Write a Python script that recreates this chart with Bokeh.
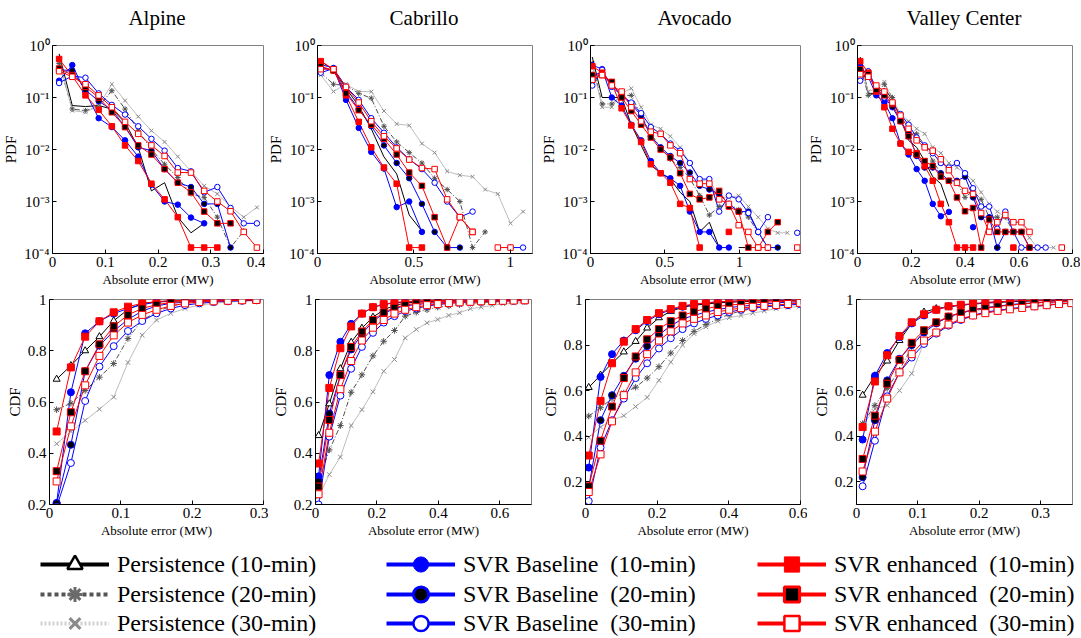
import numpy as np
from bokeh.plotting import figure
from bokeh.layouts import column, row
from bokeh.models import Range1d, FixedTicker, Legend, LegendItem, Label
from bokeh.embed import file_html
from bokeh.resources import INLINE

nan = np.nan

SITES = ["Alpine", "Cabrillo", "Avocado", "Valley Center"]
SERIES = ["Persistence (10-min)", "Persistence (20-min)", "Persistence (30-min)",
          "SVR Baseline  (10-min)", "SVR Baseline  (20-min)", "SVR Baseline  (30-min)",
          "SVR enhanced  (10-min)", "SVR enhanced  (20-min)", "SVR enhanced  (30-min)"]

# ---------------- PDF data ----------------
alp_pdf_x = [0.0125, 0.0375, 0.0625, 0.0875, 0.1125, 0.1375, 0.1625, 0.1875, 0.2125, 0.2375, 0.2625, 0.2875, 0.3125, 0.3375, 0.3625, 0.3875]
alp_pdf_p10 = [0.69, 0.07, 0.067, 0.07, 0.06, 0.033, 0.011, 0.0016, 0.0023, 0.0005, 0.00025, 0.00038, nan, nan, nan, nan]
alp_pdf_p20 = [0.45, 0.06, 0.056, 0.067, 0.135, 0.06, 0.023, 0.010, 0.0052, 0.0029, 0.0014, 0.0012, 0.0005, 0.00013, 0.00027, nan]
alp_pdf_p30 = [0.5, 0.056, 0.052, 0.07, 0.18, 0.087, 0.043, 0.023, 0.014, 0.0073, 0.0038, 0.002, 0.0014, 0.0008, 0.0005, 0.00077]
alp_pdf_b10 = [0.21, 0.42, 0.126, 0.04, 0.027, 0.015, 0.0073, 0.0021, 0.001, 0.00087, 0.00049, 0.00038, nan, nan, nan, nan]
alp_pdf_b20 = [0.34, 0.33, 0.14, 0.085, 0.058, 0.027, 0.011, 0.0095, 0.0042, 0.0023, 0.0019, 0.0009, 0.0009, 0.00013, nan, nan]
alp_pdf_b30 = [0.19, 0.26, 0.24, 0.12, 0.072, 0.047, 0.028, 0.016, 0.0095, 0.0044, 0.0038, 0.0015, 0.0019, 0.00075, 0.00038, 0.00038]
alp_pdf_e10 = [0.55, 0.26, 0.11, 0.058, 0.028, 0.012, 0.006, 0.0022, 0.0011, 0.0005, 0.00013, 0.00013, 0.00013, nan, nan, nan]
alp_pdf_e20 = [0.36, 0.27, 0.16, 0.10, 0.052, 0.027, 0.012, 0.008, 0.0042, 0.0023, 0.0015, 0.00064, 0.00038, 0.00038, nan, nan]
alp_pdf_e30 = [0.32, 0.25, 0.18, 0.11, 0.065, 0.034, 0.02, 0.012, 0.0075, 0.0036, 0.0036, 0.0016, 0.001, 0.00065, 0.00026, 0.00013]

cab_pdf_x = [0.017, 0.083, 0.148, 0.214, 0.279, 0.345, 0.411, 0.476, 0.542, 0.608, 0.673, 0.739, 0.805, 0.870, 0.936, 1.002, 1.067]
cab_pdf_p10 = [0.5, 0.34, 0.15, 0.069, 0.025, 0.0072, 0.0034, 0.00055, 0.00027, nan, nan, nan, nan, nan, nan, nan, nan]
cab_pdf_p20 = [0.3, 0.18, 0.17, 0.12, 0.097, 0.028, 0.014, 0.0087, 0.0055, 0.0028, 0.0017, 0.001, 0.00013, 0.00026, nan, nan, nan]
cab_pdf_p30 = [0.27, 0.13, 0.18, 0.13, 0.13, 0.055, 0.031, 0.029, 0.013, 0.0087, 0.0038, 0.0032, 0.003, 0.0017, 0.0014, 0.00038, 0.00064]
cab_pdf_b10 = [0.43, 0.37, 0.09, 0.026, 0.009, 0.0043, 0.00078, 0.001, 0.00026, nan, nan, nan, nan, nan, nan, nan, nan]
cab_pdf_b20 = [0.38, 0.33, 0.13, 0.06, 0.028, 0.012, 0.0055, 0.0028, 0.0009, 0.00026, 0.00013, 0.00013, nan, nan, nan, nan, nan]
cab_pdf_b30 = [0.3, 0.36, 0.16, 0.09, 0.04, 0.021, 0.011, 0.0065, 0.0042, 0.0023, 0.001, 0.0005, 0.00064, nan, nan, 0.00013, 0.00013]
cab_pdf_e10 = [0.5, 0.35, 0.11, 0.034, 0.011, 0.0045, 0.0022, 0.00013, 0.00013, nan, nan, nan, nan, nan, nan, nan, nan]
cab_pdf_e20 = [0.4, 0.33, 0.12, 0.057, 0.03, 0.016, 0.008, 0.0036, 0.002, 0.0005, 0.00013, 0.0005, 0.00026, nan, nan, nan, nan]
cab_pdf_e30 = [0.35, 0.35, 0.16, 0.08, 0.035, 0.018, 0.0105, 0.0064, 0.0044, 0.0042, 0.0011, 0.0005, 0.00026, nan, 0.00013, 0.00013, nan]

avo_pdf_x = [0.012, 0.078, 0.143, 0.209, 0.274, 0.340, 0.405, 0.471, 0.536, 0.602, 0.667, 0.733, 0.798, 0.864, 0.929, 0.995, 1.060, 1.126, 1.191, 1.257, 1.322, 1.388]
avo_pdf_p10 = [0.6, 0.1, 0.1, 0.1, 0.03, 0.012, 0.005, 0.0035, 0.0027, 0.0015, 0.001, 0.00026, 0.0004, 0.00013, nan, 0.00013, 0.00013, nan, nan, nan, nan, nan]
avo_pdf_p20 = [0.45, 0.075, 0.075, 0.11, 0.11, 0.045, 0.02, 0.011, 0.0065, 0.0045, 0.0028, 0.0013, 0.00055, 0.0008, 0.0009, 0.0007, 0.0005, 0.00025, 0.00013, nan, nan, nan]
avo_pdf_p30 = [0.4, 0.065, 0.065, 0.12, 0.15, 0.065, 0.03, 0.025, 0.018, 0.011, 0.0055, 0.0025, 0.0026, 0.0012, 0.0012, 0.0013, 0.0008, 0.0005, 0.0003, 0.00025, 0.00025, nan]
avo_pdf_b10 = [0.42, 0.35, 0.1, 0.07, 0.03, 0.015, 0.006, 0.0035, 0.0028, 0.002, 0.00064, 0.00026, 0.00026, 0.00013, 0.00013, nan, nan, nan, nan, nan, nan, nan]
avo_pdf_b20 = [0.27, 0.3, 0.18, 0.11, 0.075, 0.045, 0.018, 0.011, 0.0075, 0.0055, 0.0036, 0.002, 0.0017, 0.0014, 0.0009, 0.00064, 0.00064, 0.00026, 0.00013, 0.00013, nan, nan]
avo_pdf_b30 = [0.17, 0.34, 0.16, 0.11, 0.08, 0.05, 0.027, 0.02, 0.013, 0.0095, 0.0055, 0.0027, 0.0027, 0.00064, 0.0013, 0.0011, 0.0006, 0.00026, 0.0005, nan, nan, 0.00025]
avo_pdf_e10 = [0.4, 0.3, 0.19, 0.062, 0.029, 0.014, 0.0052, 0.0035, 0.0023, 0.0009, 0.00075, 0.00013, nan, nan, 0.00026, nan, nan, nan, nan, nan, nan, nan]
avo_pdf_e20 = [0.27, 0.27, 0.2, 0.1, 0.055, 0.03, 0.017, 0.01, 0.007, 0.0035, 0.0014, 0.0011, 0.0012, 0.0016, 0.0008, 0.00064, 0.00013, 0.00013, 0.00026, 0.0004, nan, nan]
avo_pdf_e30 = [0.22, 0.27, 0.17, 0.13, 0.065, 0.035, 0.022, 0.02, 0.012, 0.0085, 0.0027, 0.0022, 0.0022, 0.0011, 0.0009, 0.00035, 0.00026, 0.00013, 0.00013, nan, nan, 0.00013]

val_pdf_x = [0.01, 0.04, 0.07, 0.10, 0.13, 0.16, 0.19, 0.22, 0.25, 0.28, 0.31, 0.34, 0.37, 0.40, 0.43, 0.46, 0.49, 0.52, 0.55, 0.58, 0.61, 0.64, 0.67, 0.70, 0.73, 0.76]
val_pdf_p10 = [0.6, 0.12, 0.12, 0.15, 0.09, 0.04, 0.015, 0.011, 0.006, 0.003, 0.0022, 0.0008, nan, nan, nan, nan, nan, nan, nan, nan, nan, nan, nan, nan, nan, nan]
val_pdf_p20 = [0.4, 0.11, 0.12, 0.18, 0.1, 0.04, 0.02, 0.02, 0.012, 0.006, 0.0035, 0.0025, 0.0023, 0.0012, 0.0016, 0.0011, 0.0005, 0.0005, 0.0005, 0.00026, 0.00026, 0.00013, 0.00013, nan, nan, nan]
val_pdf_p30 = [0.45, 0.13, 0.15, 0.2, 0.09, 0.05, 0.035, 0.025, 0.02, 0.011, 0.0085, 0.0055, 0.0045, 0.0035, 0.0025, 0.0015, 0.0009, 0.00064, 0.0005, 0.0004, 0.0004, 0.0002, 0.00013, 0.00013, 0.00013, nan]
val_pdf_b10 = [0.4, 0.25, 0.11, 0.08, 0.04, 0.013, 0.008, 0.0042, 0.0025, 0.0009, 0.00052, 0.00063, nan, nan, 0.00032, nan, nan, 0.00013, nan, nan, nan, nan, nan, nan, nan, nan]
val_pdf_b20 = [0.35, 0.3, 0.13, 0.1, 0.065, 0.035, 0.02, 0.0075, 0.0045, 0.0045, 0.0035, 0.0025, 0.0025, 0.003, 0.0012, 0.0005, 0.0005, 0.00013, 0.00026, 0.00026, 0.00026, 0.00013, nan, nan, nan, nan]
val_pdf_b30 = [0.21, 0.32, 0.15, 0.1, 0.075, 0.048, 0.03, 0.017, 0.012, 0.0085, 0.0055, 0.0045, 0.0055, 0.0035, 0.0018, 0.0008, 0.0008, 0.0003, 0.00064, 0.00026, 0.00013, 0.00013, 0.00013, 0.00013, nan, nan]
val_pdf_e10 = [0.5, 0.3, 0.13, 0.065, 0.025, 0.013, 0.009, 0.0085, 0.0048, 0.0025, 0.0009, 0.0004, 0.00013, 0.00013, 0.00013, nan, nan, nan, nan, 0.00013, nan, nan, nan, nan, nan, nan]
val_pdf_e20 = [0.35, 0.28, 0.14, 0.11, 0.075, 0.035, 0.018, 0.008, 0.006, 0.0048, 0.003, 0.0025, 0.0012, 0.00065, 0.00075, 0.00013, 0.00045, 0.00026, 0.00026, 0.00026, 0.00026, 0.00013, nan, nan, nan, nan]
val_pdf_e30 = [0.28, 0.25, 0.17, 0.13, 0.08, 0.045, 0.025, 0.015, 0.011, 0.0095, 0.0065, 0.004, 0.0023, 0.0016, 0.0014, 0.0006, 0.00026, 0.0004, 0.00055, 0.0004, 0.0004, 0.00026, nan, nan, nan, 0.00013]

# ---------------- CDF data ----------------
alp_cdf_x = [0.01, 0.03, 0.05, 0.07, 0.09, 0.11, 0.13, 0.15, 0.17, 0.19, 0.21, 0.23, 0.25, 0.27, 0.29]
alp_cdf_p10 = [0.689, 0.742, 0.80, 0.855, 0.917, 0.961, 0.985, 0.99, 0.993, 0.995, 0.996, 0.997, 0.998, 0.999, 0.999]
alp_cdf_p20 = [0.57, 0.595, 0.645, 0.697, 0.75, 0.848, 0.92, 0.95, 0.975, 0.985, 0.99, 0.993, 0.995, 0.997, 0.998]
alp_cdf_p30 = [0.437, 0.485, 0.528, 0.572, 0.619, 0.754, 0.861, 0.92, 0.946, 0.965, 0.978, 0.985, 0.99, 0.993, 0.995]
alp_cdf_b10 = [0.206, 0.638, 0.868, 0.915, 0.945, 0.965, 0.98, 0.99, 0.995, 0.997, 0.998, 0.999, 0.999, 1.0, 1.0]
alp_cdf_b20 = [0.205, 0.433, 0.72, 0.82, 0.877, 0.922, 0.955, 0.975, 0.985, 0.99, 0.993, 0.995, 0.997, 0.998, 0.999]
alp_cdf_b30 = [0.19, 0.362, 0.604, 0.738, 0.818, 0.877, 0.916, 0.946, 0.965, 0.978, 0.985, 0.99, 0.993, 0.995, 0.997]
alp_cdf_e10 = [0.485, 0.735, 0.855, 0.915, 0.95, 0.972, 0.985, 0.992, 0.995, 0.997, 0.998, 0.999, 0.999, 1.0, 1.0]
alp_cdf_e20 = [0.33, 0.56, 0.72, 0.825, 0.895, 0.94, 0.965, 0.98, 0.988, 0.992, 0.995, 0.997, 0.998, 0.999, 0.999]
alp_cdf_e30 = [0.29, 0.505, 0.665, 0.78, 0.86, 0.91, 0.94, 0.96, 0.975, 0.985, 0.99, 0.993, 0.995, 0.997, 0.998]

cab_cdf_x = [0.01, 0.045, 0.081, 0.116, 0.151, 0.187, 0.222, 0.257, 0.292, 0.328, 0.363, 0.398, 0.434, 0.469, 0.504, 0.539, 0.575, 0.61, 0.645, 0.681]
cab_cdf_p10 = [0.469, 0.593, 0.73, 0.833, 0.888, 0.931, 0.96, 0.977, 0.986, 0.99, 0.992, 0.994, 0.995, 0.996, 0.997, 0.998, 0.998, 0.999, 0.999, 0.999]
cab_cdf_p20 = [0.29, 0.413, 0.508, 0.638, 0.706, 0.78, 0.837, 0.879, 0.935, 0.95, 0.96, 0.97, 0.975, 0.98, 0.985, 0.988, 0.99, 0.993, 0.995, 0.996]
cab_cdf_p30 = [0.23, 0.317, 0.385, 0.508, 0.57, 0.64, 0.72, 0.766, 0.85, 0.883, 0.909, 0.922, 0.938, 0.948, 0.964, 0.97, 0.977, 0.983, 0.986, 0.988]
cab_cdf_b10 = [0.31, 0.705, 0.835, 0.905, 0.945, 0.97, 0.98, 0.987, 0.99, 0.993, 0.995, 0.996, 0.997, 0.998, 0.998, 0.999, 0.999, 0.999, 1.0, 1.0]
cab_cdf_b20 = [0.29, 0.555, 0.705, 0.805, 0.865, 0.915, 0.945, 0.965, 0.975, 0.98, 0.985, 0.988, 0.99, 0.992, 0.994, 0.995, 0.996, 0.997, 0.998, 0.998]
cab_cdf_b30 = [0.2, 0.465, 0.625, 0.73, 0.815, 0.87, 0.91, 0.935, 0.955, 0.965, 0.975, 0.98, 0.985, 0.988, 0.99, 0.992, 0.993, 0.994, 0.995, 0.996]
cab_cdf_e10 = [0.36, 0.655, 0.81, 0.895, 0.945, 0.97, 0.982, 0.988, 0.992, 0.994, 0.995, 0.996, 0.997, 0.998, 0.998, 0.999, 0.999, 0.999, 1.0, 1.0]
cab_cdf_e20 = [0.27, 0.53, 0.705, 0.815, 0.875, 0.92, 0.95, 0.968, 0.978, 0.985, 0.988, 0.99, 0.992, 0.994, 0.995, 0.996, 0.997, 0.998, 0.998, 0.999]
cab_cdf_e30 = [0.24, 0.48, 0.65, 0.76, 0.84, 0.89, 0.92, 0.945, 0.96, 0.97, 0.978, 0.982, 0.986, 0.989, 0.991, 0.993, 0.994, 0.995, 0.996, 0.997]

avo_cdf_x = [0.009, 0.042, 0.074, 0.107, 0.140, 0.172, 0.205, 0.238, 0.271, 0.303, 0.336, 0.369, 0.401, 0.434, 0.467, 0.499, 0.532, 0.565, 0.598]
avo_cdf_p10 = [0.614, 0.668, 0.72, 0.77, 0.816, 0.875, 0.92, 0.948, 0.966, 0.975, 0.98, 0.985, 0.988, 0.99, 0.992, 0.994, 0.995, 0.996, 0.997]
avo_cdf_p20 = [0.488, 0.525, 0.565, 0.59, 0.615, 0.655, 0.705, 0.765, 0.82, 0.86, 0.89, 0.915, 0.935, 0.95, 0.96, 0.968, 0.975, 0.98, 0.985]
avo_cdf_p30 = [0.395, 0.44, 0.47, 0.49, 0.53, 0.57, 0.645, 0.725, 0.80, 0.85, 0.88, 0.905, 0.92, 0.93, 0.94, 0.95, 0.96, 0.965, 0.97]
avo_cdf_b10 = [0.262, 0.66, 0.76, 0.82, 0.865, 0.905, 0.935, 0.955, 0.968, 0.978, 0.985, 0.989, 0.992, 0.994, 0.995, 0.996, 0.997, 0.998, 0.998]
avo_cdf_b20 = [0.175, 0.47, 0.58, 0.665, 0.74, 0.795, 0.845, 0.885, 0.915, 0.93, 0.945, 0.955, 0.965, 0.97, 0.975, 0.98, 0.985, 0.988, 0.99]
avo_cdf_b30 = [0.115, 0.35, 0.47, 0.565, 0.655, 0.72, 0.785, 0.83, 0.87, 0.895, 0.915, 0.93, 0.945, 0.955, 0.962, 0.968, 0.972, 0.975, 0.98]
avo_cdf_e10 = [0.315, 0.555, 0.72, 0.815, 0.87, 0.91, 0.94, 0.958, 0.972, 0.98, 0.985, 0.99, 0.992, 0.994, 0.995, 0.996, 0.997, 0.998, 0.998]
avo_cdf_e20 = [0.18, 0.38, 0.53, 0.655, 0.75, 0.825, 0.87, 0.905, 0.93, 0.947, 0.96, 0.97, 0.975, 0.98, 0.985, 0.988, 0.99, 0.992, 0.994]
avo_cdf_e30 = [0.155, 0.32, 0.465, 0.58, 0.68, 0.76, 0.82, 0.86, 0.895, 0.915, 0.93, 0.945, 0.955, 0.962, 0.968, 0.972, 0.976, 0.98, 0.985]

val_cdf_x = [0.01, 0.03, 0.05, 0.07, 0.09, 0.11, 0.13, 0.15, 0.17, 0.19, 0.21, 0.23, 0.25, 0.27, 0.29, 0.31, 0.33, 0.35]
val_cdf_p10 = [0.58, 0.665, 0.73, 0.82, 0.895, 0.945, 0.96, 0.968, 0.975, 0.98, 0.984, 0.987, 0.99, 0.992, 0.994, 0.995, 0.996, 0.997]
val_cdf_p20 = [0.455, 0.535, 0.61, 0.69, 0.79, 0.86, 0.9, 0.92, 0.94, 0.95, 0.96, 0.97, 0.975, 0.98, 0.985, 0.988, 0.99, 0.993]
val_cdf_p30 = [0.45, 0.52, 0.535, 0.6, 0.675, 0.81, 0.85, 0.89, 0.91, 0.925, 0.94, 0.95, 0.96, 0.97, 0.975, 0.98, 0.985, 0.99]
val_cdf_b10 = [0.385, 0.665, 0.765, 0.835, 0.895, 0.93, 0.955, 0.97, 0.975, 0.98, 0.985, 0.99, 0.992, 0.994, 0.996, 0.997, 0.998, 0.999]
val_cdf_b20 = [0.22, 0.47, 0.645, 0.74, 0.8, 0.855, 0.895, 0.925, 0.94, 0.955, 0.965, 0.97, 0.978, 0.982, 0.985, 0.988, 0.99, 0.992]
val_cdf_b30 = [0.18, 0.38, 0.575, 0.68, 0.745, 0.805, 0.85, 0.885, 0.91, 0.93, 0.945, 0.952, 0.96, 0.965, 0.97, 0.975, 0.98, 0.985]
val_cdf_e10 = [0.44, 0.64, 0.755, 0.84, 0.9, 0.935, 0.955, 0.97, 0.977, 0.982, 0.987, 0.99, 0.993, 0.995, 0.996, 0.997, 0.998, 0.999]
val_cdf_e20 = [0.30, 0.49, 0.63, 0.735, 0.81, 0.865, 0.9, 0.925, 0.943, 0.955, 0.962, 0.97, 0.975, 0.98, 0.985, 0.988, 0.99, 0.992]
val_cdf_e30 = [0.245, 0.42, 0.565, 0.68, 0.76, 0.82, 0.855, 0.89, 0.915, 0.93, 0.94, 0.95, 0.957, 0.963, 0.97, 0.975, 0.98, 0.984]

# ---------------- axes ----------------
PDF_X_TICKS = [[0, 0.1, 0.2, 0.3, 0.4], [0, 0.5, 1], [0, 0.5, 1], [0, 0.2, 0.4, 0.6, 0.8]]
PDF_X_MAX = [0.4, 1.116, 1.41, 0.8]
PDF_Y_TICKS = [0.0001, 0.001, 0.01, 0.1, 1]
PDF_Y_LABELS = ["10\u207b\u2074", "10\u207b\u00b3", "10\u207b\u00b2", "10\u207b\u00b9", "10\u2070"]
CDF_X_TICKS = [[0, 0.1, 0.2, 0.3], [0, 0.2, 0.4, 0.6], [0, 0.2, 0.4, 0.6], [0, 0.1, 0.2, 0.3]]
CDF_X_MAX = [0.3, 0.703, 0.6, 0.352]
CDF_Y_MIN = [0.2, 0.2, 0.1, 0.1]
CDF_Y_TICKS = [0.2, 0.4, 0.6, 0.8, 1]

PDF_DATA = [
    (alp_pdf_x, [alp_pdf_p10, alp_pdf_p20, alp_pdf_p30, alp_pdf_b10, alp_pdf_b20, alp_pdf_b30, alp_pdf_e10, alp_pdf_e20, alp_pdf_e30]),
    (cab_pdf_x, [cab_pdf_p10, cab_pdf_p20, cab_pdf_p30, cab_pdf_b10, cab_pdf_b20, cab_pdf_b30, cab_pdf_e10, cab_pdf_e20, cab_pdf_e30]),
    (avo_pdf_x, [avo_pdf_p10, avo_pdf_p20, avo_pdf_p30, avo_pdf_b10, avo_pdf_b20, avo_pdf_b30, avo_pdf_e10, avo_pdf_e20, avo_pdf_e30]),
    (val_pdf_x, [val_pdf_p10, val_pdf_p20, val_pdf_p30, val_pdf_b10, val_pdf_b20, val_pdf_b30, val_pdf_e10, val_pdf_e20, val_pdf_e30]),
]
CDF_DATA = [
    (alp_cdf_x, [alp_cdf_p10, alp_cdf_p20, alp_cdf_p30, alp_cdf_b10, alp_cdf_b20, alp_cdf_b30, alp_cdf_e10, alp_cdf_e20, alp_cdf_e30]),
    (cab_cdf_x, [cab_cdf_p10, cab_cdf_p20, cab_cdf_p30, cab_cdf_b10, cab_cdf_b20, cab_cdf_b30, cab_cdf_e10, cab_cdf_e20, cab_cdf_e30]),
    (avo_cdf_x, [avo_cdf_p10, avo_cdf_p20, avo_cdf_p30, avo_cdf_b10, avo_cdf_b20, avo_cdf_b30, avo_cdf_e10, avo_cdf_e20, avo_cdf_e30]),
    (val_cdf_x, [val_cdf_p10, val_cdf_p20, val_cdf_p30, val_cdf_b10, val_cdf_b20, val_cdf_b30, val_cdf_e10, val_cdf_e20, val_cdf_e30]),
]

# ---------------- styles ----------------
FONT = "Liberation Serif"
LINE_COLOR = ["black", "#505050", "#bdbdbd", "blue", "blue", "blue", "red", "red", "red"]
LINE_DASH = ["solid", "5 2 1 2", "solid", "solid", "solid", "solid", "solid", "solid", "solid"]
MARKER = ["triangle", "asterisk", "x", "circle", "circle", "circle", "square", "square", "square"]
MARKER_FILL = ["white", "#505050", "#8a8a8a", "blue", "black", "white", "red", "black", "white"]
MARKER_LINE = ["black", "#505050", "#8a8a8a", "blue", "blue", "blue", "red", "red", "red"]

# page has no margin: columns laid out from x = 0
TITLE_H = 30                       # strip holding the four site titles
TITLE_Y = 13                       # title centre, px from the strip's bottom
PDF_H, PDF_TOP, PDF_BOTTOM = 260, 15, 37
PDF_W = [265, 273, 267, 275]
PDF_LEFT = [50, 50, 50, 50]
PDF_RIGHT = [2, 6, 5, 8]
CDF_W = [268, 270, 269, 273]
CDF_LEFT = [49, 47, 47, 49]
CDF_RIGHT = [5, 7, 7, 8]


def fmt(t):
    return f"{t:g}"


def style(p, xticks, yticks, ylabels, ylabel):
    p.xgrid.visible = False
    p.ygrid.visible = False
    p.outline_line_color = "#808080"
    p.background_fill_color = "white"
    p.border_fill_color = "white"
    p.xaxis.ticker = FixedTicker(ticks=xticks, minor_ticks=[])
    p.yaxis.ticker = FixedTicker(ticks=yticks, minor_ticks=[])
    p.xaxis.major_label_overrides = {t: fmt(t) for t in xticks}
    p.yaxis.major_label_overrides = {t: l for t, l in zip(yticks, ylabels)}
    for ax in list(p.xaxis) + list(p.yaxis):
        ax.major_tick_in = 4
        ax.major_tick_out = 0
        ax.minor_tick_in = 0
        ax.minor_tick_out = 0
        ax.axis_line_color = "black"
        ax.major_tick_line_color = "black"
        ax.major_label_text_font = FONT
        ax.major_label_text_font_size = "15px"
        ax.major_label_text_color = "black"
        ax.major_label_standoff = 3
        ax.axis_label_text_font = FONT
        ax.axis_label_text_font_style = "normal"
        ax.axis_label_text_color = "black"
        ax.axis_label_standoff = 2
    p.xaxis.axis_label = "Absolute error (MW)"
    p.xaxis.axis_label_text_font_size = "13px"
    p.yaxis.axis_label = ylabel
    p.yaxis.axis_label_text_font_size = "15px"


def draw(p, x, ys, pdf):
    for k, y in enumerate(ys):
        p.line(x, y, line_color=LINE_COLOR[k], line_width=1, line_dash=LINE_DASH[k])
    for k, y in enumerate(ys):
        if pdf and k == 0:
            continue
        sz = 5.5 if pdf else 7
        if MARKER[k] in ("asterisk", "x"):
            sz = 5.5 if pdf else 6.5
        p.scatter(x, y, marker=MARKER[k], size=sz, fill_color=MARKER_FILL[k],
                  line_color=MARKER_LINE[k], line_width=1)


# ---------------- title strip ----------------
tt = figure(width=sum(PDF_W), height=TITLE_H, x_range=Range1d(0, 1), y_range=Range1d(0, 1),
            x_axis_location=None, y_axis_location=None, min_border=0,
            output_backend="svg", toolbar_location=None)
tt.xgrid.visible = False
tt.ygrid.visible = False
tt.outline_line_color = None
col_x = 0
for i, site in enumerate(SITES):
    frame_w = PDF_W[i] - PDF_LEFT[i] - PDF_RIGHT[i]
    tt.add_layout(Label(x=col_x + PDF_LEFT[i] + frame_w / 2, y=TITLE_Y, x_units="screen", y_units="screen",
                        text=site, text_align="center", text_baseline="middle",
                        text_font=FONT, text_font_size="21px", text_color="black"))
    col_x += PDF_W[i]

pdf_figs = []
cdf_figs = []
for i, site in enumerate(SITES):
    p = figure(width=PDF_W[i], height=PDF_H, y_axis_type="log",
               x_range=Range1d(0, PDF_X_MAX[i]), y_range=Range1d(1e-4, 1),
               min_border_left=PDF_LEFT[i], min_border_right=PDF_RIGHT[i],
               min_border_top=PDF_TOP, min_border_bottom=PDF_BOTTOM,
               output_backend="svg", toolbar_location=None)
    style(p, PDF_X_TICKS[i], PDF_Y_TICKS, PDF_Y_LABELS, "PDF")
    x, ys = PDF_DATA[i]
    draw(p, x, ys, True)
    pdf_figs.append(p)

    q = figure(width=CDF_W[i], height=250,
               x_range=Range1d(0, CDF_X_MAX[i]), y_range=Range1d(CDF_Y_MIN[i], 1),
               min_border_left=CDF_LEFT[i], min_border_right=CDF_RIGHT[i],
               min_border_top=9, min_border_bottom=36,
               output_backend="svg", toolbar_location=None)
    style(q, CDF_X_TICKS[i], CDF_Y_TICKS, [fmt(t) for t in CDF_Y_TICKS], "CDF")
    x, ys = CDF_DATA[i]
    draw(q, x, ys, False)
    cdf_figs.append(q)

# ---------------- legend ----------------
LG_H = 97
lg = figure(width=1080, height=LG_H, x_range=Range1d(0, 1), y_range=Range1d(0, 1),
            x_axis_location=None, y_axis_location=None, min_border=0,
            output_backend="svg", toolbar_location=None)
lg.xgrid.visible = False
lg.ygrid.visible = False
lg.outline_line_color = None

LG_DASH = ["solid", "4 3", "2 2", "solid", "solid", "solid", "solid", "solid", "solid"]
LG_LINE = ["black", "#555555", "#cfcfcf", "blue", "blue", "blue", "red", "red", "red"]
LG_MLW = [2.5, 3, 3, 1, 3, 2.5, 1, 3, 2.5]
LG_MLINE = ["black", "#6a6a6a", "#8a8a8a", "blue", "blue", "blue", "red", "red", "red"]
LG_X = [40, 386, 757]          # left edge of each legend column (px)
LG_ROW_TOP = [24, 54, 83]      # row centres, px from top of the legend strip
GLYPH_H = 38                   # legend marker size = 0.4 * glyph box height

for k in range(9):
    g, r = divmod(k, 3)
    r1 = lg.line(x=[nan], y=[nan], line_color=LG_LINE[k], line_width=4, line_dash=LG_DASH[k])
    r2 = lg.scatter(x=[nan], y=[nan], marker=MARKER[k], size=16, fill_color=MARKER_FILL[k],
                    line_color=LG_MLINE[k], line_width=LG_MLW[k])
    leg = Legend(items=[LegendItem(label=SERIES[k], renderers=[r1, r2])],
                 location=(LG_X[g], LG_H - LG_ROW_TOP[r] - GLYPH_H // 2),
                 orientation="vertical",
                 label_text_font=FONT, label_text_font_size="24px", label_text_color="black",
                 glyph_width=69, glyph_height=GLYPH_H, label_height=24, spacing=0,
                 label_standoff=8, padding=0, margin=0, border_line_color=None,
                 background_fill_alpha=0)
    lg.add_layout(leg, "center")

layout = column(tt, row(*pdf_figs), row(*cdf_figs), lg)
open("out.html", "w").write(file_html(layout, INLINE))
